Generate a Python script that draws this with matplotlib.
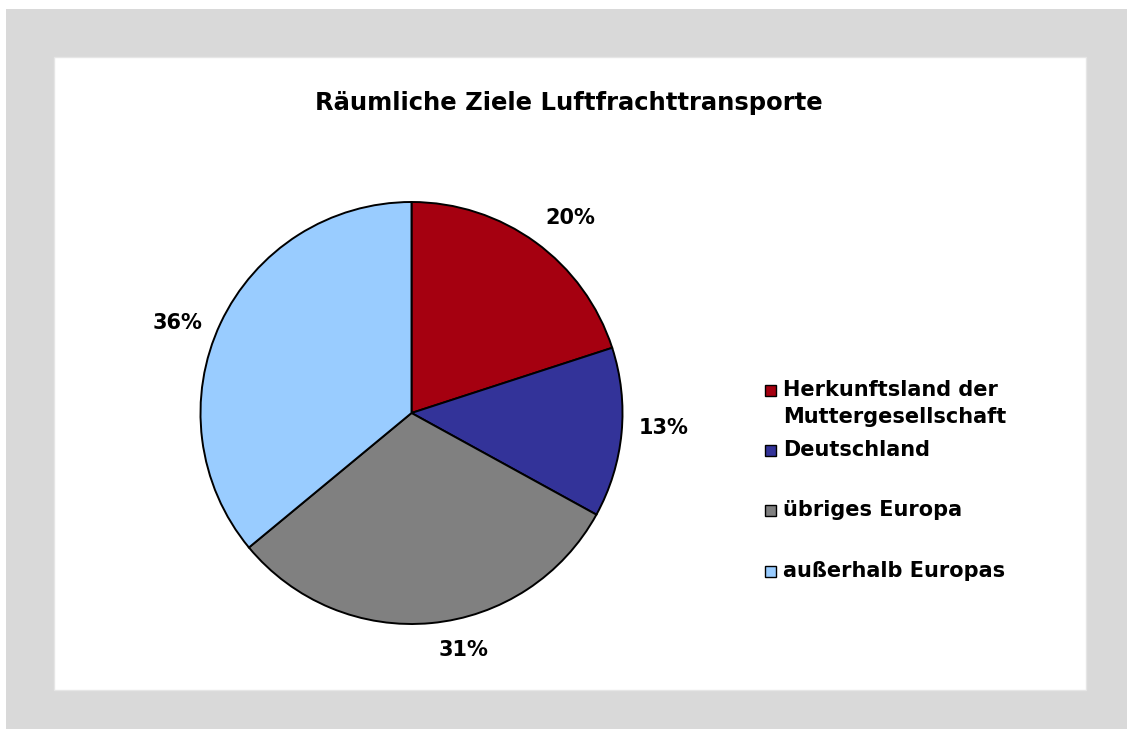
import matplotlib.pyplot as plt
from matplotlib.patches import Rectangle

# Räumliche Ziele der Luftfrachttransporte (Anteile in %)
categories = ['Herkunftsland der\nMuttergesellschaft', 'Deutschland',
              'übriges Europa', 'außerhalb Europas']
shares = [20, 13, 31, 36]
colors = ['#a50010', '#333399', '#808080', '#99ccff']

W, H = 1127, 729
fig = plt.figure(figsize=(W / 100, H / 100), dpi=100)
fig.patch.set_facecolor('white')


def px(x, y):
    # pixel position (from top left) -> figure fraction
    return x / W, 1 - y / H


# grey frame and white chart area
fig.patches.append(Rectangle(px(6, 729), (W - 6) / W, (729 - 9) / H,
                             transform=fig.transFigure, facecolor='#d9d9d9',
                             edgecolor='none', zorder=0))
fig.patches.append(Rectangle(px(54, 690), (1086 - 54) / W, (690 - 57) / H,
                             transform=fig.transFigure, facecolor='white',
                             edgecolor='#e6e6e6', lw=1, zorder=1))

fig.text(*px(569, 103), 'Räumliche Ziele Luftfrachttransporte', ha='center',
         va='center', fontsize=17.5, fontweight='bold', family='DejaVu Sans')

# pie: centre (411, 413), radius 211 px
r = 211
cx, cy = 411.5, 413
ax = fig.add_axes([(cx - r) / W, (H - cy - r) / H, 2 * r / W, 2 * r / H])
ax.set_zorder(2)
wedges, _, autotexts = ax.pie(shares, colors=colors, startangle=90,
                              counterclock=False, autopct='%d%%',
                              pctdistance=1.19,
                              wedgeprops=dict(edgecolor='black', linewidth=1.4),
                              textprops=dict(fontsize=15, fontweight='bold'))
ax.set_xlim(-1, 1)
ax.set_ylim(-1, 1)
ax.set_aspect('equal')
ax.axis('off')

# percentage labels placed like the spreadsheet does it
label_pos = [(570, 218), (664, 428), (463, 650), (178, 323)]
for t, (lx, ly) in zip(autotexts, label_pos):
    t.set_position(((lx - cx) / r, (cy - ly) / r))
    t.set_ha('center')
    t.set_va('center')
    t.set_clip_on(False)

# legend drawn by hand, marker next to the first text line
legend_y = [390, 450, 510, 571]
for label, col, ly in zip(categories, colors, legend_y):
    fig.patches.append(Rectangle(px(765, ly + 6), 11 / W, 11 / H,
                                 transform=fig.transFigure, facecolor=col,
                                 edgecolor='black', lw=1, zorder=3))
    fig.text(*px(783, ly - 10), label, ha='left', va='top', fontsize=15,
             fontweight='bold', linespacing=1.45, zorder=3)

fig.savefig('out.png', dpi=100)
